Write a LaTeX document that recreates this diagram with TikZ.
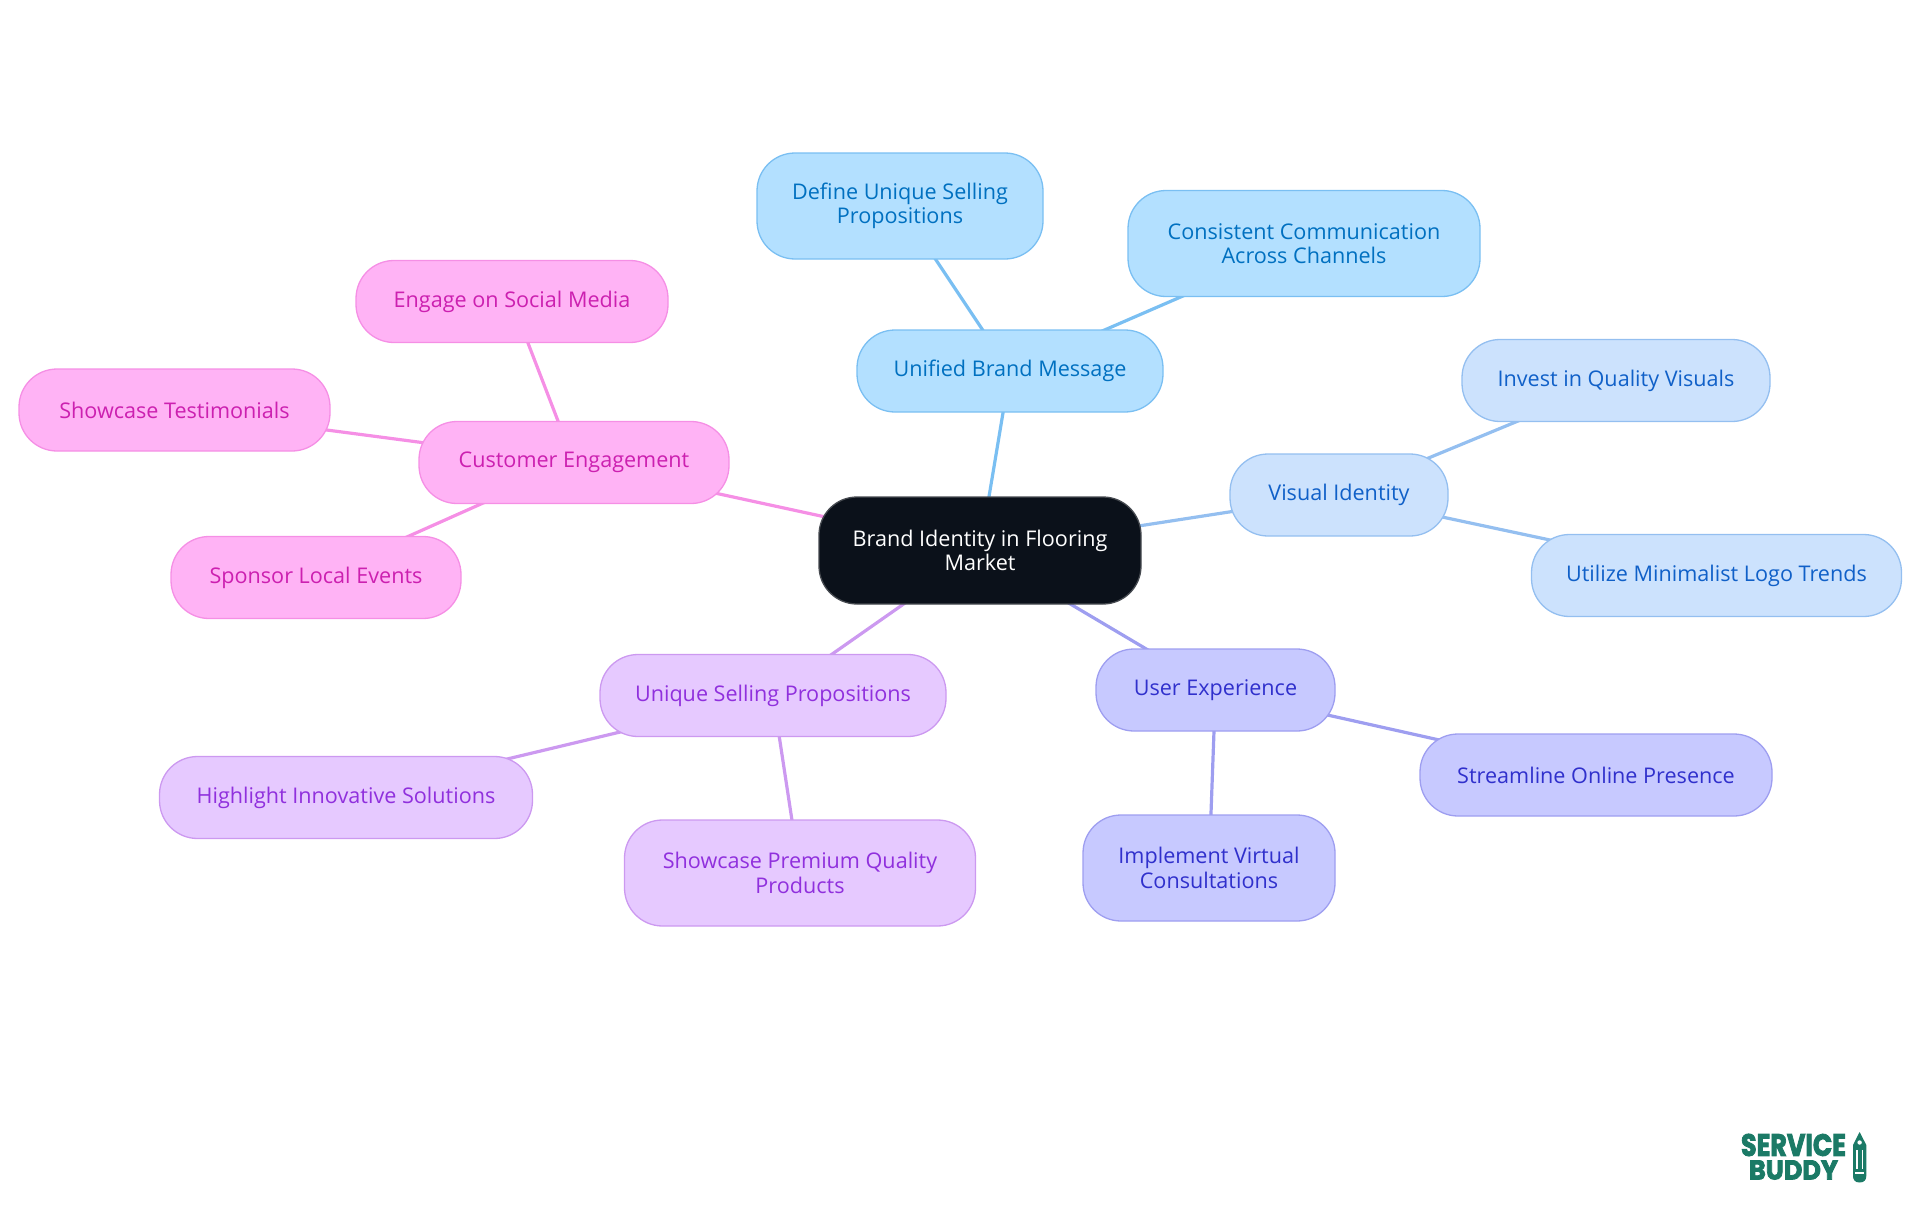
\documentclass[tikz,border=0pt]{standalone}
\usepackage{fontspec}
\setmainfont{Open Sans}
\newfontfamily\logofont{Poppins}[BoldFeatures={FakeBold=3}]
\usetikzlibrary{backgrounds}
\definecolor{rootfill}{RGB}{11,17,26}
\definecolor{rootline}{RGB}{70,74,80}
\definecolor{bfill}{RGB}{179,224,255}\definecolor{bline}{RGB}{122,191,242}\definecolor{btext}{RGB}{0,112,192}
\definecolor{vfill}{RGB}{204,226,253}\definecolor{vline}{RGB}{148,191,240}\definecolor{vtext}{RGB}{16,96,200}
\definecolor{ufill}{RGB}{199,201,255}\definecolor{uline}{RGB}{158,158,240}\definecolor{utext}{RGB}{48,48,204}
\definecolor{pfill}{RGB}{230,201,255}\definecolor{pline}{RGB}{204,153,240}\definecolor{ptext}{RGB}{144,48,221}
\definecolor{mfill}{RGB}{255,179,245}\definecolor{mline}{RGB}{245,143,229}\definecolor{mtext}{RGB}{204,32,176}
\definecolor{logogreen}{RGB}{27,122,102}
\tikzset{
  x=1pt,y=-1pt,
  mapnode/.style n args={3}{draw=#2,fill=#1,text=#3,line width=1.3pt,rounded corners=38pt,
     align=center,font=\fontsize{21.6}{24.3}\selectfont,inner sep=0pt,anchor=center},
  rootnode/.style={mapnode={rootfill}{rootline}{white}},
  bnode/.style={mapnode={bfill}{bline}{btext}},
  vnode/.style={mapnode={vfill}{vline}{vtext}},
  unode/.style={mapnode={ufill}{uline}{utext}},
  pnode/.style={mapnode={pfill}{pline}{ptext}},
  mnode/.style={mapnode={mfill}{mline}{mtext}},
  wh/.style 2 args={minimum width=#1pt,minimum height=#2pt},
  link/.style={line width=3.2pt},
}
\begin{document}
\begin{tikzpicture}
\useasboundingbox (0,0) rectangle (1920,1215);
\node[rootnode,wh={322}{107}] (root) at (980,550.5) {Brand Identity in Flooring\\Market};
\node[bnode,wh={306}{82}] (unified) at (1010,371) {Unified Brand Message};
\node[bnode,wh={286}{106}] (define) at (900,206) {Define Unique Selling\\Propositions};
\node[bnode,wh={352}{106}] (consistent) at (1304,243.5) {Consistent Communication\\Across Channels};
\node[vnode,wh={218}{82}] (visual) at (1339,495) {Visual Identity};
\node[vnode,wh={308}{82}] (invest) at (1616,380.5) {Invest in Quality Visuals};
\node[vnode,wh={370}{82}] (utilize) at (1716.5,575.5) {Utilize Minimalist Logo Trends};
\node[unode,wh={239}{82}] (user) at (1215.5,690) {User Experience};
\node[unode,wh={352}{82}] (streamline) at (1596,775) {Streamline Online Presence};
\node[unode,wh={252}{106}] (implement) at (1209,868) {Implement Virtual\\Consultations};
\node[pnode,wh={346}{82}] (usp) at (773,695.5) {Unique Selling Propositions};
\node[pnode,wh={373}{82}] (highlight) at (346,797.5) {Highlight Innovative Solutions};
\node[pnode,wh={351}{106}] (premium) at (800,873) {Showcase Premium Quality\\Products};
\node[mnode,wh={310}{82}] (customer) at (574,462.5) {Customer Engagement};
\node[mnode,wh={312}{82}] (engage) at (512,301.5) {Engage on Social Media};
\node[mnode,wh={311}{82}] (testimonials) at (174.5,410) {Showcase Testimonials};
\node[mnode,wh={290}{82}] (sponsor) at (316,577.5) {Sponsor Local Events};
\begin{scope}[on background layer]
\draw[link,bline] (root.center) -- (unified.center);
\draw[link,bline] (unified.center) -- (define.center);
\draw[link,bline] (unified.center) -- (consistent.center);
\draw[link,vline] (root.center) -- (visual.center);
\draw[link,vline] (visual.center) -- (invest.center);
\draw[link,vline] (visual.center) -- (utilize.center);
\draw[link,uline] (root.center) -- (user.center);
\draw[link,uline] (user.center) -- (streamline.center);
\draw[link,uline] (user.center) -- (implement.center);
\draw[link,pline] (root.center) -- (usp.center);
\draw[link,pline] (usp.center) -- (highlight.center);
\draw[link,pline] (usp.center) -- (premium.center);
\draw[link,mline] (root.center) -- (customer.center);
\draw[link,mline] (customer.center) -- (engage.center);
\draw[link,mline] (customer.center) -- (testimonials.center);
\draw[link,mline] (customer.center) -- (sponsor.center);
\end{scope}
\node[text=logogreen,inner sep=0pt] (logo1) at (1793.5,1145) {\resizebox{105pt}{22pt}{\logofont\bfseries SERVICE}};
\node[text=logogreen,inner sep=0pt] (logo2) at (1793.5,1170) {\resizebox{89pt}{19pt}{\logofont\bfseries BUDDY}};
\fill[logogreen] (1859.6,1132) -- (1866.3,1145) -- (1866.3,1176)
   .. controls (1866.3,1180) and (1864,1182.5) .. (1859.6,1182.5)
   .. controls (1855.2,1182.5) and (1853,1180) .. (1853,1176)
   -- (1853,1145) -- cycle;
\fill[white] (1859.6,1142.5) circle[radius=2.2];
\fill[white] (1856.2,1150) rectangle (1857.6,1168.5);
\fill[white] (1861.6,1150) rectangle (1863,1168.5);
\fill[white] (1855,1171.5) rectangle (1864.2,1173.5);
\end{tikzpicture}
\end{document}
